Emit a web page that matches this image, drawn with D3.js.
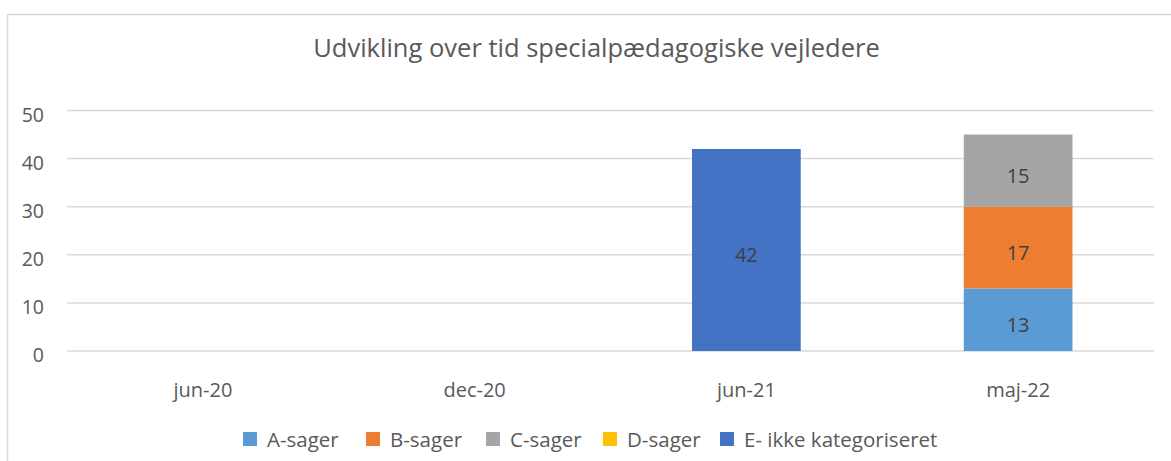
<!DOCTYPE html>
<html>
<head>
<meta charset="utf-8">
<script src="https://cdn.jsdelivr.net/npm/d3@7"></script>
<style>
  body { margin: 0; background: #fff; }
</style>
</head>
<body>
<div id="drawing"></div>
<script>
// chart data
const categories = ["jun-20", "dec-20", "jun-21", "maj-22"];
const seriesNames = ["A-sager", "B-sager", "C-sager", "D-sager", "E- ikke kategoriseret"];
const seriesColors = ["#5B9BD5", "#ED7D31", "#A5A5A5", "#FFC000", "#4472C4"];
const aSager = [0, 0, 0, 13];
const bSager = [0, 0, 0, 17];
const cSager = [0, 0, 0, 15];
const dSager = [0, 0, 0, 0];
const eSager = [0, 0, 42, 0];
const yTicks = [0, 10, 20, 30, 40, 50];
const chartTitle = "Udvikling over tid specialpædagogiske vejledere";

const seriesValues = [aSager, bSager, cSager, dSager, eSager];
const table = categories.map((c, i) => {
  const row = { cat: c };
  seriesNames.forEach((s, j) => (row[s] = seriesValues[j][i]));
  return row;
});

const W = 1171, H = 461;
const plotLeft = 67, plotRight = 1154, plotTop = 110.5, plotBottom = 351;
const font = "'Open Sans', sans-serif";
const textCol = "#595959";

const svg = d3
  .select("#drawing")
  .append("svg")
  .attr("width", W)
  .attr("height", H)
  .style("font-family", font);

// chart area border (top and left visible)
svg.append("line").attr("x1", 7.5).attr("x2", W).attr("y1", 14.5).attr("y2", 14.5)
  .attr("stroke", "#d9d9d9").attr("stroke-width", 1.5);
svg.append("line").attr("x1", 7.5).attr("x2", 7.5).attr("y1", 14.5).attr("y2", H)
  .attr("stroke", "#d9d9d9").attr("stroke-width", 1.5);

const x = d3.scaleBand().domain(categories).range([plotLeft, plotRight]).paddingInner(0.6).paddingOuter(0.3);
const y = d3.scaleLinear().domain([0, 50]).range([plotBottom, plotTop]);

// gridlines
svg.append("g")
  .selectAll("line")
  .data(yTicks)
  .join("line")
  .attr("x1", plotLeft)
  .attr("x2", plotRight)
  .attr("y1", (d) => y(d))
  .attr("y2", (d) => y(d))
  .attr("stroke", "#d9d9d9")
  .attr("stroke-width", 1.5);

// y axis labels
const yAxis = svg.append("g")
  .attr("transform", `translate(${plotLeft - 23},4.5)`)
  .call(d3.axisLeft(y).tickValues(yTicks).tickSize(0).tickPadding(0));
yAxis.select(".domain").remove();
yAxis.selectAll("text")
  .attr("fill", textCol)
  .style("font-size", "19.5px")
  .style("font-family", font);

// x axis labels
const xAxis = svg.append("g")
  .attr("transform", `translate(0,${plotBottom + 23})`)
  .call(d3.axisBottom(x).tickSize(0).tickPadding(0));
xAxis.select(".domain").remove();
xAxis.selectAll("text")
  .attr("dy", null)
  .attr("y", 22.5)
  .attr("fill", textCol)
  .style("font-size", "20px")
  .style("font-family", font);

// stacked bars
const stacked = d3.stack().keys(seriesNames)(table);

const layers = svg.append("g")
  .selectAll("g")
  .data(stacked)
  .join("g")
  .attr("fill", (d, i) => seriesColors[i]);

layers.selectAll("rect")
  .data((d) => d)
  .join("rect")
  .attr("x", (d) => x(d.data.cat))
  .attr("width", x.bandwidth())
  .attr("y", (d) => y(d[1]))
  .attr("height", (d) => y(d[0]) - y(d[1]));

layers.selectAll("text")
  .data((d) => d.filter((p) => p[1] - p[0] > 0))
  .join("text")
  .attr("x", (d) => x(d.data.cat) + x.bandwidth() / 2)
  .attr("y", (d) => (y(d[0]) + y(d[1])) / 2 + 4.5)
  .attr("text-anchor", "middle")
  .attr("dominant-baseline", "central")
  .attr("fill", "#404040")
  .style("font-size", "20px")
  .text((d) => d[1] - d[0]);

// title
svg.append("text")
  .attr("x", 596.5)
  .attr("y", 56.5)
  .attr("text-anchor", "middle")
  .attr("fill", textCol)
  .style("font-size", "25.5px")
  .text(chartTitle);

// legend
const legendX = [243, 366, 486, 603, 720];
const legend = svg.append("g")
  .selectAll("g")
  .data(seriesNames)
  .join("g")
  .attr("transform", (d, i) => `translate(${legendX[i]},439)`);

legend.append("rect")
  .attr("x", 0)
  .attr("y", -7)
  .attr("width", 14)
  .attr("height", 14)
  .attr("fill", (d, i) => seriesColors[i]);

legend.append("text")
  .attr("x", 24)
  .attr("y", 7.5)
  .attr("fill", textCol)
  .style("font-size", "20.5px")
  .text((d) => d);
</script>
</body>
</html>
